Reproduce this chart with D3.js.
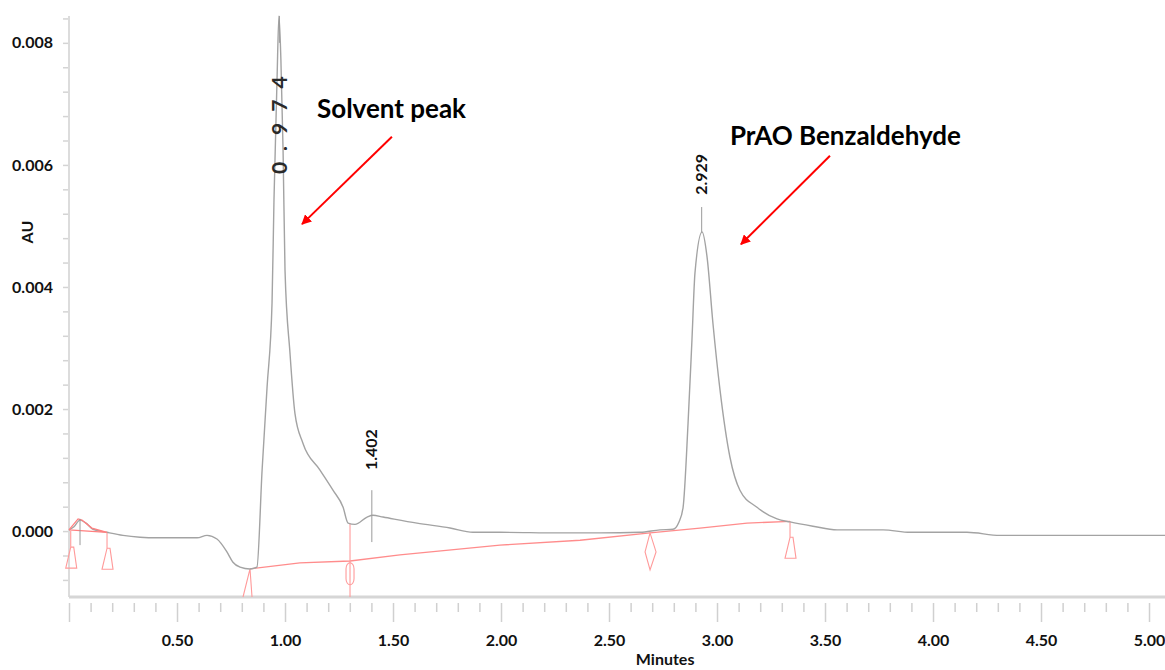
<!DOCTYPE html>
<html>
<head>
<meta charset="utf-8">
<script src="https://cdn.jsdelivr.net/npm/d3@7"></script>
<style>
  body { margin: 0; background: #fff; }
  text { font-family: Lato, "Open Sans", sans-serif; }
</style>
</head>
<body>
<script>
var width = 1165;
var height = 670;

// detector trace (minutes, AU)
var traceTime = [0.000, 0.023, 0.051, 0.079, 0.111, 0.176, 0.250, 0.329, 0.407, 0.593, 0.639, 0.685, 0.731, 0.759, 0.792, 0.838, 0.870, 0.894, 0.917, 0.940, 0.949, 0.963, 0.972, 0.981, 0.991, 1.000, 1.023, 1.046, 1.083, 1.162, 1.222, 1.269, 1.292, 1.324, 1.380, 1.407, 1.454, 1.611, 1.764, 1.870, 1.995, 2.273, 2.458, 2.644, 2.736, 2.796, 2.824, 2.843, 2.866, 2.884, 2.898, 2.931, 2.954, 2.981, 3.014, 3.060, 3.106, 3.185, 3.278, 3.338, 3.444, 3.556, 3.769, 3.894, 4.157, 4.310, 5.074];
var traceAU = [0.00002, 0.00007, 0.00018, 0.00013, 0.00003, -0.00002, -0.00007, -0.00010, -0.00011, -0.00011, -0.00007, -0.00013, -0.00034, -0.00051, -0.00059, -0.00062, -0.00059, 0.00100, 0.00236, 0.00374, 0.00543, 0.00739, 0.00844, 0.00772, 0.00625, 0.00428, 0.00292, 0.00193, 0.00144, 0.00100, 0.00067, 0.00039, 0.00013, 0.00011, 0.00023, 0.00026, 0.00023, 0.00013, 0.00005, -0.00002, -0.00002, -0.00003, -0.00003, -0.00002, 0.00002, 0.00003, 0.00015, 0.00039, 0.00177, 0.00313, 0.00423, 0.00490, 0.00449, 0.00341, 0.00231, 0.00121, 0.00067, 0.00039, 0.00020, 0.00015, 0.00008, 0.00002, 0.00002, -0.00002, -0.00002, -0.00007, -0.00007];

// integration baselines (red)
var baseTime = [0.838, 1.069, 1.301, 1.532, 1.995, 2.366, 2.690, 2.921, 3.139, 3.338];
var baseAU = [-0.00062, -0.00052, -0.00049, -0.00039, -0.00023, -0.00015, -0.00003, 0.00005, 0.00013, 0.00016];
var smallPeakTime = [0.000, 0.042, 0.060, 0.106, 0.176, 0.000];
var smallPeakAU = [0.00002, 0.00020, 0.00018, 0.00005, -0.00002, 0.00002];

// integration event marks
var eventTime = [0.008, 0.176, 0.838, 1.301, 2.690, 3.338];
var eventAU = [0.00000, -0.00002, -0.00062, 0.00012, -0.00003, 0.00016];
var eventShape = ["trap", "trap", "vee", "oval", "diamond", "trap"];

// peak apex marks and retention time labels
var peakTime = [0.051, 0.974, 1.402, 2.929];
var peakTickTop = [0.00020, 0.00844, 0.00067, 0.00531];
var peakTickBottom = [-0.00023, 0.00800, -0.00018, 0.00490];
var rtLabels = ["", "0.974", "1.402", "2.929"];
var rtLabelAU = [0, 0.00585, 0.00100, 0.00551];

var yMajor = [0.000, 0.002, 0.004, 0.006, 0.008];
var xMajor = [0.5, 1.0, 1.5, 2.0, 2.5, 3.0, 3.5, 4.0, 4.5, 5.0];

// annotations
var noteText = ["Solvent peak", "PrAO Benzaldehyde"];
var noteTextTime = [1.148, 3.060];
var noteTextAU = [0.00677, 0.00633];
var noteFromTime = [1.495, 3.523];
var noteFromAU = [0.00646, 0.00615];
var noteToTime = [1.079, 3.111];
var noteToAU = [0.00503, 0.00470];

var svg = d3.select("body").append("svg")
    .attr("width", width)
    .attr("height", height);

var x = d3.scaleLinear().domain([0, 5.074]).range([69, 1165]);
var y = d3.scaleLinear().domain([-0.00108, 0.00844]).range([597, 16]);

svg.append("defs").append("marker")
    .attr("id", "arrow")
    .attr("viewBox", "0 0 10 10")
    .attr("refX", 9).attr("refY", 5)
    .attr("markerWidth", 5).attr("markerHeight", 5)
    .attr("orient", "auto")
    .append("path")
    .attr("d", "M0,0 L10,5 L0,10 z")
    .style("fill", "#ff0000");

// y axis
var yTicks = d3.range(-8, 85, 4).map(function (d) { return d / 10000; });
var yAxis = svg.append("g")
    .attr("transform", "translate(" + x(0) + ",0)")
    .call(d3.axisLeft(y)
        .tickValues(yTicks)
        .tickSize(6)
        .tickPadding(10)
        .tickFormat(function (d) {
            return yMajor.some(function (m) { return Math.abs(m - d) < 1e-9; }) ? d3.format(".3f")(d) : "";
        }));
yAxis.select(".domain").remove();
yAxis.selectAll(".tick line").style("stroke", "#d4d4d4").style("stroke-width", 1.5);
yAxis.selectAll(".tick text")
    .style("font-size", "16px").style("font-weight", "bold").style("fill", "#111");
svg.append("line")
    .attr("x1", x(0)).attr("x2", x(0))
    .attr("y1", y.range()[1]).attr("y2", y.range()[0])
    .style("stroke", "#dcdcdc").style("stroke-width", 2);

// x axis
var xTicks = d3.range(0, 51).map(function (d) { return d / 10; });
var xAxis = svg.append("g")
    .attr("transform", "translate(0," + y.range()[0] + ")")
    .call(d3.axisBottom(x)
        .tickValues(xTicks)
        .tickSize(0)
        .tickFormat(function (d) {
            return xMajor.some(function (m) { return Math.abs(m - d) < 1e-9; }) ? d3.format(".2f")(d) : "";
        }));
xAxis.select(".domain").remove();
xAxis.selectAll(".tick line")
    .attr("y1", 6)
    .attr("y2", function (d) { return Math.round(d * 10) % 5 === 0 ? 25 : 15; })
    .style("stroke", "#d0d0d0").style("stroke-width", 1.5);
xAxis.selectAll(".tick text")
    .attr("y", 38)
    .style("font-size", "16px").style("font-weight", "bold").style("fill", "#111");
svg.append("line")
    .attr("x1", x(0)).attr("x2", width)
    .attr("y1", y.range()[0]).attr("y2", y.range()[0])
    .style("stroke", "#d6d6d6").style("stroke-width", 3);

svg.append("text")
    .attr("x", x(2.76)).attr("y", 665)
    .attr("text-anchor", "middle")
    .style("font-size", "16px").style("font-weight", "bold").style("fill", "#111")
    .text("Minutes");
svg.append("text")
    .attr("transform", "translate(33," + y(0.0049) + ") rotate(-90)")
    .attr("text-anchor", "middle")
    .style("font-size", "16px").style("font-weight", "bold").style("fill", "#111")
    .text("AU");

var line = d3.line()
    .x(function (d) { return x(d[0]); })
    .y(function (d) { return y(d[1]); });

// red integration baselines
svg.append("path")
    .datum(d3.zip(baseTime, baseAU))
    .attr("d", line)
    .style("fill", "none").style("stroke", "#ff8c8c").style("stroke-width", 1.3);

// event marks
var ev = svg.append("g").style("fill", "none").style("stroke", "#ff9a9a").style("stroke-width", 1.1);
eventTime.forEach(function (t, i) {
    var px = x(t);
    var py = y(eventAU[i]);
    var shape = eventShape[i];
    if (shape === "trap") {
        ev.append("path")
            .attr("d", "M" + px + "," + py + " L" + px + "," + (py + 16) +
                " L" + (px - 5) + "," + (py + 37) + " L" + (px + 6) + "," + (py + 37) +
                " L" + (px + 3) + "," + (py + 16) + " L" + px + "," + (py + 16));
    } else if (shape === "vee") {
        ev.append("path")
            .attr("d", "M" + (px - 7) + "," + y.range()[0] + " L" + px + "," + py +
                " L" + (px + 2) + "," + y.range()[0]);
    } else if (shape === "oval") {
        ev.append("line")
            .attr("x1", px).attr("x2", px).attr("y1", py).attr("y2", y.range()[0]);
        ev.append("rect")
            .attr("x", px - 4).attr("y", py + 39).attr("width", 8).attr("height", 22)
            .attr("rx", 4).attr("ry", 6);
    } else if (shape === "diamond") {
        ev.append("path")
            .attr("d", "M" + px + "," + py + " L" + (px - 5) + "," + (py + 19) +
                " L" + px + "," + (py + 37) + " L" + (px + 6) + "," + (py + 19) + " Z");
    }
});

// trace
svg.append("path")
    .datum(d3.zip(traceTime, traceAU))
    .attr("d", line.curve(d3.curveMonotoneX))
    .style("fill", "none").style("stroke", "#a3a3a3").style("stroke-width", 1.4);

// small first peak outline in red
svg.append("path")
    .datum(d3.zip(smallPeakTime, smallPeakAU))
    .attr("d", d3.line().x(function (d) { return x(d[0]); }).y(function (d) { return y(d[1]); }))
    .style("fill", "none").style("stroke", "#ff8080").style("stroke-width", 1.3);

// apex tick marks
peakTime.forEach(function (t, i) {
    svg.append("line")
        .attr("x1", x(t)).attr("x2", x(t))
        .attr("y1", y(peakTickTop[i])).attr("y2", y(peakTickBottom[i]))
        .style("stroke", "#9a9a9a").style("stroke-width", 1);
    if (rtLabels[i] !== "") {
        var big = i === 1;
        svg.append("text")
            .attr("transform", "translate(" + x(t) + "," + y(rtLabelAU[i]) + ") rotate(-90)")
            .attr("dy", "0.35em")
            .style("font-size", big ? "21px" : "16px")
            .style("font-weight", "bold")
            .style("letter-spacing", big ? "11px" : "0px")
            .style("fill", big ? "#2a2a2a" : "#111")
            .text(rtLabels[i]);
    }
});

// annotations
noteText.forEach(function (s, i) {
    svg.append("text")
        .attr("x", x(noteTextTime[i])).attr("y", y(noteTextAU[i]))
        .style("font-size", "26px").style("font-weight", "bold").style("fill", "#000")
        .text(s);
    svg.append("line")
        .attr("x1", x(noteFromTime[i])).attr("y1", y(noteFromAU[i]))
        .attr("x2", x(noteToTime[i])).attr("y2", y(noteToAU[i]))
        .style("stroke", "#ff0000").style("stroke-width", 2)
        .attr("marker-end", "url(#arrow)");
});
</script>
</body>
</html>
